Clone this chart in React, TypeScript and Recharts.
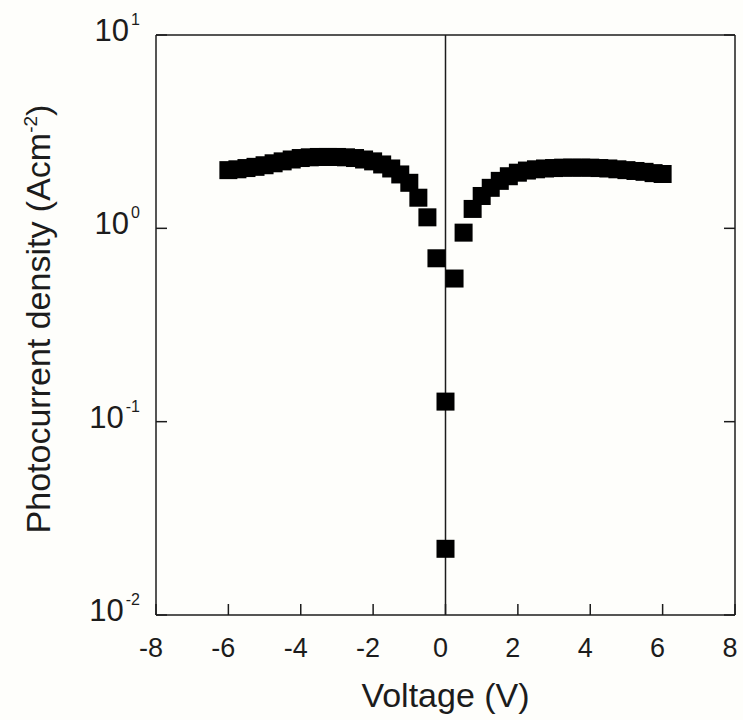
import React from 'react';
import { ScatterChart, Scatter, XAxis, YAxis, ReferenceLine, Label } from 'recharts';

// bias voltage (V), 0.25 V steps
const voltage = [
  -6, -5.75, -5.5, -5.25, -5, -4.75, -4.5, -4.25, -4, -3.75, -3.5, -3.25,
  -3, -2.75, -2.5, -2.25, -2, -1.75, -1.5, -1.25, -1, -0.75, -0.5, -0.25,
  0, 0,
  0.25, 0.5, 0.75, 1, 1.25, 1.5, 1.75, 2, 2.25, 2.5, 2.75, 3,
  3.25, 3.5, 3.75, 4, 4.25, 4.5, 4.75, 5, 5.25, 5.5, 5.75, 6,
];

// photocurrent density (A cm^-2)
const density = [
  2.0, 2.02, 2.05, 2.08, 2.12, 2.17, 2.22, 2.27, 2.31, 2.33, 2.34, 2.34,
  2.34, 2.33, 2.31, 2.27, 2.22, 2.14, 2.04, 1.9, 1.72, 1.44, 1.14, 0.7,
  0.127, 0.022,
  0.55, 0.95, 1.26, 1.47, 1.62, 1.76, 1.86, 1.94, 1.99, 2.02, 2.04, 2.05,
  2.06, 2.06, 2.06, 2.06, 2.05, 2.04, 2.02, 2.0, 1.98, 1.96, 1.93, 1.91,
];

const xTicks = [-8, -6, -4, -2, 0, 2, 4, 6, 8];
const yTicks = [0.01, 0.1, 1, 10];
const yTickExponents = ['-2', '-1', '0', '1'];

const points = voltage.map((v, i) => ({ v, j: density[i] }));

const FONT = '"Liberation Sans", Arial, Helvetica, sans-serif';
const INK = '#1c1c1c';
const TICK = 11;

// ticks point into the plot on all four sides
const BottomTick = (props: any) => {
  const { x, y, payload } = props;
  return (
    <g>
      <line x1={x} y1={y} x2={x} y2={y - TICK} stroke={INK} strokeWidth={1.5} />
      {/* labels in the original sit a few px left of their ticks */}
      <text x={x - 5} y={y + 42} textAnchor="middle" fontSize={27} fontFamily={FONT} fill={INK}>
        {payload.value}
      </text>
    </g>
  );
};

const TopTick = (props: any) => {
  const { x, y } = props;
  return <line x1={x} y1={y} x2={x} y2={y + TICK} stroke={INK} strokeWidth={1.5} />;
};

const LeftTick = (props: any) => {
  const { x, y, payload } = props;
  const exp = yTickExponents[yTicks.indexOf(payload.value)];
  return (
    <g>
      <line x1={x} y1={y} x2={x + TICK} y2={y} stroke={INK} strokeWidth={1.5} />
      <text x={x - 16} y={y + 6} textAnchor="end" fontSize={31} fontFamily={FONT} fill={INK}>
        <tspan>10</tspan>
        <tspan dx={2} dy={-16} fontSize={16}>{exp}</tspan>
      </text>
    </g>
  );
};

const RightTick = (props: any) => {
  const { x, y } = props;
  return <line x1={x} y1={y} x2={x - TICK} y2={y} stroke={INK} strokeWidth={1.5} />;
};

const XTitle = (props: any) => {
  const { x = 148, y = 607, width = 579 } = props.viewBox || {};
  return (
    <text x={x + width / 2} y={y + 92} textAnchor="middle" fontSize={34} fontFamily={FONT} fill={INK}>
      Voltage (V)
    </text>
  );
};

const YTitle = (props: any) => {
  const { x = 0, y = 27, height = 580 } = props.viewBox || {};
  return (
    <text
      transform={`translate(${x + 42},${y + height / 2 - 6}) rotate(-90)`}
      textAnchor="middle"
      fontSize={34}
      fontFamily={FONT}
      fill={INK}
    >
      Photocurrent density (Acm
      <tspan dy={-13} fontSize={19}>-2</tspan>
      <tspan dy={13} fontSize={34}>)</tspan>
    </text>
  );
};

const Square = (props: any) => {
  const { cx, cy } = props;
  return <rect x={cx - 9} y={cy - 9} width={18} height={18} fill="#000" />;
};

export default function App() {
  return (
    <>
      {/* no page margin / scrollbars, so the full 743px width is usable */}
      <style>{'html, body { margin: 0; padding: 0; overflow: hidden; background: #fefefb; }'}</style>
      <div
        style={{
          position: 'relative',
          padding: '8px 0 0 8px',
          width: 735,
          height: 712,
          background: '#fefefb',
          overflow: 'hidden',
        }}
      >
        <ScatterChart width={735} height={712} margin={{ top: 26, right: 7, bottom: 0, left: 0 }}>
          <XAxis
            dataKey="v"
            type="number"
            domain={[-8, 8]}
            ticks={xTicks}
            height={105}
            tickSize={0}
            tickMargin={0}
            tickLine={false}
            tick={BottomTick}
            axisLine={{ stroke: INK, strokeWidth: 1.5 }}
            interval={0}
          >
            <Label content={XTitle} />
          </XAxis>
          <XAxis
            xAxisId="top"
            orientation="top"
            type="number"
            domain={[-8, 8]}
            ticks={xTicks}
            height={1}
            tickSize={0}
            tickMargin={0}
            tickLine={false}
            tick={TopTick}
            axisLine={{ stroke: INK, strokeWidth: 1.5 }}
            interval={0}
          />
          <YAxis
            dataKey="j"
            type="number"
            scale="log"
            domain={[0.01, 10]}
            ticks={yTicks}
            width={148}
            tickSize={0}
            tickMargin={0}
            tickLine={false}
            tick={LeftTick}
            axisLine={{ stroke: INK, strokeWidth: 1.5 }}
            interval={0}
            allowDataOverflow
          >
            <Label content={YTitle} />
          </YAxis>
          <YAxis
            yAxisId="right"
            orientation="right"
            type="number"
            scale="log"
            domain={[0.01, 10]}
            ticks={yTicks}
            width={1}
            tickSize={0}
            tickMargin={0}
            tickLine={false}
            tick={RightTick}
            axisLine={{ stroke: INK, strokeWidth: 1.5 }}
            interval={0}
            allowDataOverflow
          />
          <ReferenceLine x={0} stroke={INK} strokeWidth={1.5} />
          <Scatter data={points} shape={Square} isAnimationActive={false} />
        </ScatterChart>
      </div>
    </>
  );
}
